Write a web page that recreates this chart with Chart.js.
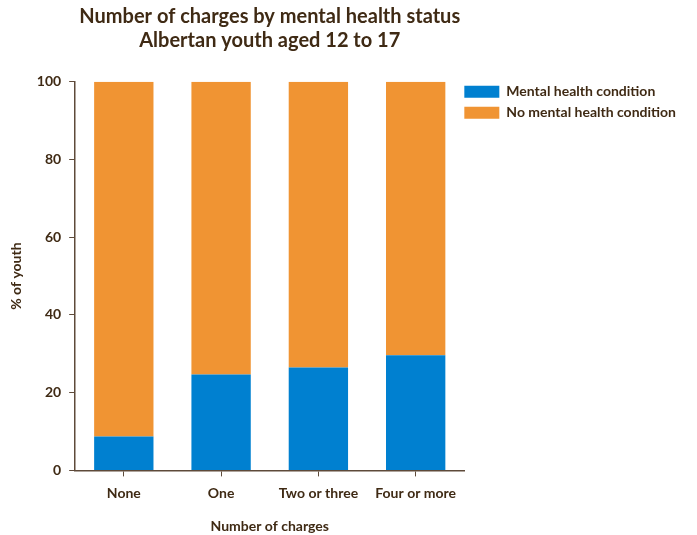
<!DOCTYPE html>
<html><head><meta charset="utf-8">
<script src="https://cdn.jsdelivr.net/npm/chart.js@4"></script>
<style>html,body{margin:0;padding:0;background:#fff}#wrap{width:697px;height:535px}</style>
</head><body><div id="wrap"><canvas id="c" width="697" height="535"></canvas></div>
<script>
const categories = ["None", "One", "Two or three", "Four or more"];
const mentalHealth = [8.7, 24.7, 26.5, 29.6];
const noMentalHealth = [91.3, 75.3, 73.5, 70.4];
const yTicks = [0, 20, 40, 60, 80, 100];
const seriesNames = ["Mental health condition", "No mental health condition"];
const titleLines = ["Number of charges by mental health status", "Albertan youth aged 12 to 17"];

const textColor = "#3f2a14";
const axisColor = "#5e4a3a";
const FONT = "Lato";

const legendShift = {
  id: "legendShift",
  afterLayout(chart) {
    const l = chart.legend;
    l.top -= 4; l.bottom -= 4;
    l.left -= 7; l.right -= 7;
  }
};

new Chart(document.getElementById("c"), {
  type: "bar",
  data: {
    labels: categories,
    datasets: [
      { label: seriesNames[0], data: mentalHealth, backgroundColor: "#0080d0", borderWidth: 0 },
      { label: seriesNames[1], data: noMentalHealth, backgroundColor: "#f09433", borderWidth: 0 }
    ]
  },
  plugins: [legendShift],
  options: {
    responsive: false,
    animation: false,
    layout: { padding: { top: 3, left: 4, right: 4, bottom: 0 } },
    datasets: { bar: { categoryPercentage: 1, barPercentage: 0.61 } },
    plugins: {
      title: {
        display: true, text: titleLines, color: textColor, fullSize: false,
        font: { family: FONT, size: 20, weight: "bold", lineHeight: 1.17 },
        padding: { top: 2, bottom: 30 }
      },
      legend: {
        position: "right", align: "start", fullSize: false, maxWidth: 320,
        labels: { color: textColor, boxWidth: 35, boxHeight: 12, padding: 7,
          font: { family: FONT, size: 14, weight: "bold" } }
      },
      tooltip: { enabled: false }
    },
    scales: {
      x: {
        stacked: true,
        border: { color: axisColor, width: 1.5 },
        grid: { offset: false, drawOnChartArea: false, drawTicks: true, tickLength: 6, color: axisColor },
        ticks: { color: textColor, padding: 9, font: { family: FONT, size: 14, weight: "bold" } },
        title: { display: true, text: "Number of charges", color: textColor, padding: { top: 7, bottom: 0 },
          font: { family: FONT, size: 14, weight: "bold" } }
      },
      y: {
        stacked: true, min: 0, max: 100,
        afterBuildTicks: (s) => { s.ticks = yTicks.map(v => ({ value: v })); },
        border: { color: axisColor, width: 1.5 },
        grid: { drawOnChartArea: false, drawTicks: true, tickLength: 6, color: axisColor },
        ticks: { color: textColor, padding: 8, font: { family: FONT, size: 14, weight: "bold" } },
        title: { display: true, text: "% of youth", color: textColor, padding: { top: 4, bottom: 4 },
          font: { family: FONT, size: 14, weight: "bold" } }
      }
    }
  }
});
</script></body></html>
